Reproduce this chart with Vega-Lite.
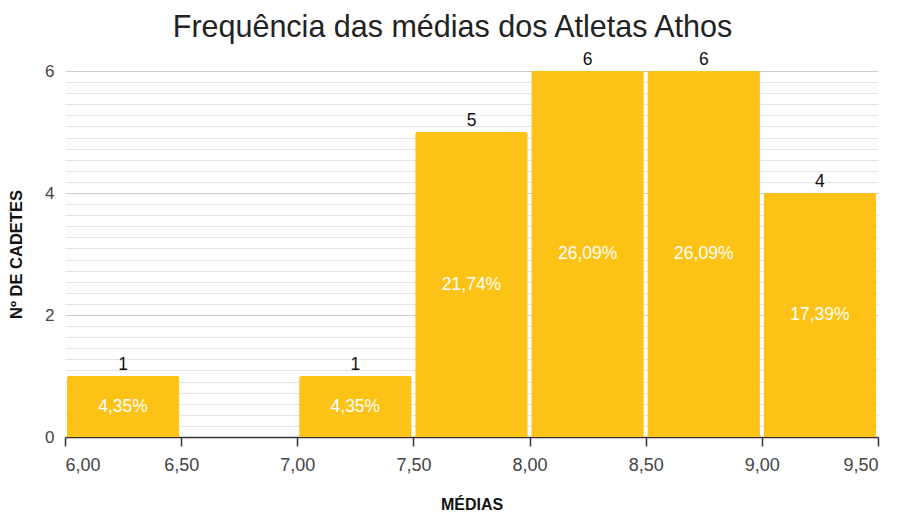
{
  "$schema": "https://vega.github.io/schema/vega-lite/v6.json",
  "autosize": {"type": "none"},
  "width": 813,
  "height": 366,
  "padding": {"left": 65, "top": 71, "right": 20, "bottom": 75},
  "background": "white",
  "title": {
    "text": "Frequência das médias dos Atletas Athos",
    "font": "Liberation Sans",
    "fontSize": 30.5,
    "fontWeight": "normal",
    "color": "#222222",
    "anchor": "middle",
    "dx": -19,
    "offset": 8
  },
  "config": {
    "view": {"stroke": null},
    "font": "Liberation Sans"
  },
  "data": {
    "values": [
      {"inicio": 6.0, "fim": 6.5, "cadetes": 1, "pct": "4,35%"},
      {"inicio": 7.0, "fim": 7.5, "cadetes": 1, "pct": "4,35%"},
      {"inicio": 7.5, "fim": 8.0, "cadetes": 5, "pct": "21,74%"},
      {"inicio": 8.0, "fim": 8.5, "cadetes": 6, "pct": "26,09%"},
      {"inicio": 8.5, "fim": 9.0, "cadetes": 6, "pct": "26,09%"},
      {"inicio": 9.0, "fim": 9.5, "cadetes": 4, "pct": "17,39%"}
    ]
  },
  "encoding": {
    "x": {
      "field": "inicio",
      "type": "quantitative",
      "scale": {"domain": [6, 9.5], "nice": false, "zero": false},
      "axis": {
        "title": "MÉDIAS",
        "titleFont": "Liberation Sans",
        "titleFontSize": 16,
        "titleFontWeight": "bold",
        "titleColor": "#111111",
        "titlePadding": 22,
        "values": [6, 6.5, 7, 7.5, 8, 8.5, 9, 9.5],
        "labelExpr": "replace(format(datum.value, '.2f'), '.', ',')",
        "labelFontSize": 18,
        "labelColor": "#444444",
        "labelPadding": 10,
        "grid": false,
        "domainColor": "#333333",
        "domainWidth": 1.5,
        "tickColor": "#333333",
        "tickWidth": 1.5,
        "tickSize": 9
      }
    },
    "y": {
      "field": "cadetes",
      "type": "quantitative",
      "scale": {"domain": [0, 6], "nice": false},
      "axis": {
        "title": "Nº DE CADETES",
        "titleFont": "Liberation Sans",
        "titleFontSize": 16.5,
        "titleFontWeight": "bold",
        "titleColor": "#111111",
        "titlePadding": 20,
        "values": [0, 0.1818, 0.3636, 0.5455, 0.7273, 0.9091, 1.0909, 1.2727, 1.4545, 1.6364, 1.8182, 2, 2.1818, 2.3636, 2.5455, 2.7273, 2.9091, 3.0909, 3.2727, 3.4545, 3.6364, 3.8182, 4, 4.1818, 4.3636, 4.5455, 4.7273, 4.9091, 5.0909, 5.2727, 5.4545, 5.6364, 5.8182, 6],
        "labelExpr": "datum.value % 2 === 0 ? datum.value : ''",
        "labelFontSize": 17,
        "labelColor": "#444444",
        "labelPadding": 11,
        "domain": false,
        "ticks": false,
        "grid": true,
        "gridColor": {"condition": {"test": "datum.value % 2 === 0", "value": "#cccccc"}, "value": "#e3e3e3"},
        "gridWidth": 1
      }
    }
  },
  "layer": [
    {
      "mark": {"type": "bar", "color": "#FCC216", "xOffset": 2, "x2Offset": -2, "cornerRadiusTopLeft": 2, "cornerRadiusTopRight": 2},
      "encoding": {
        "x2": {"field": "fim"},
        "y2": {"datum": 0}
      }
    },
    {
      "mark": {"type": "text", "baseline": "bottom", "dy": -2, "fontSize": 17.5, "color": "#111111", "font": "Liberation Sans"},
      "encoding": {
        "x": {"field": "centro", "type": "quantitative"},
        "text": {"field": "cadetes", "type": "quantitative"}
      },
      "transform": [{"calculate": "(datum.inicio + datum.fim) / 2", "as": "centro"}]
    },
    {
      "mark": {"type": "text", "baseline": "middle", "fontSize": 17.5, "color": "white", "font": "Liberation Sans"},
      "encoding": {
        "x": {"field": "centro", "type": "quantitative"},
        "y": {"field": "meio", "type": "quantitative"},
        "text": {"field": "pct", "type": "nominal"}
      },
      "transform": [
        {"calculate": "(datum.inicio + datum.fim) / 2", "as": "centro"},
        {"calculate": "datum.cadetes / 2", "as": "meio"}
      ]
    }
  ]
}
